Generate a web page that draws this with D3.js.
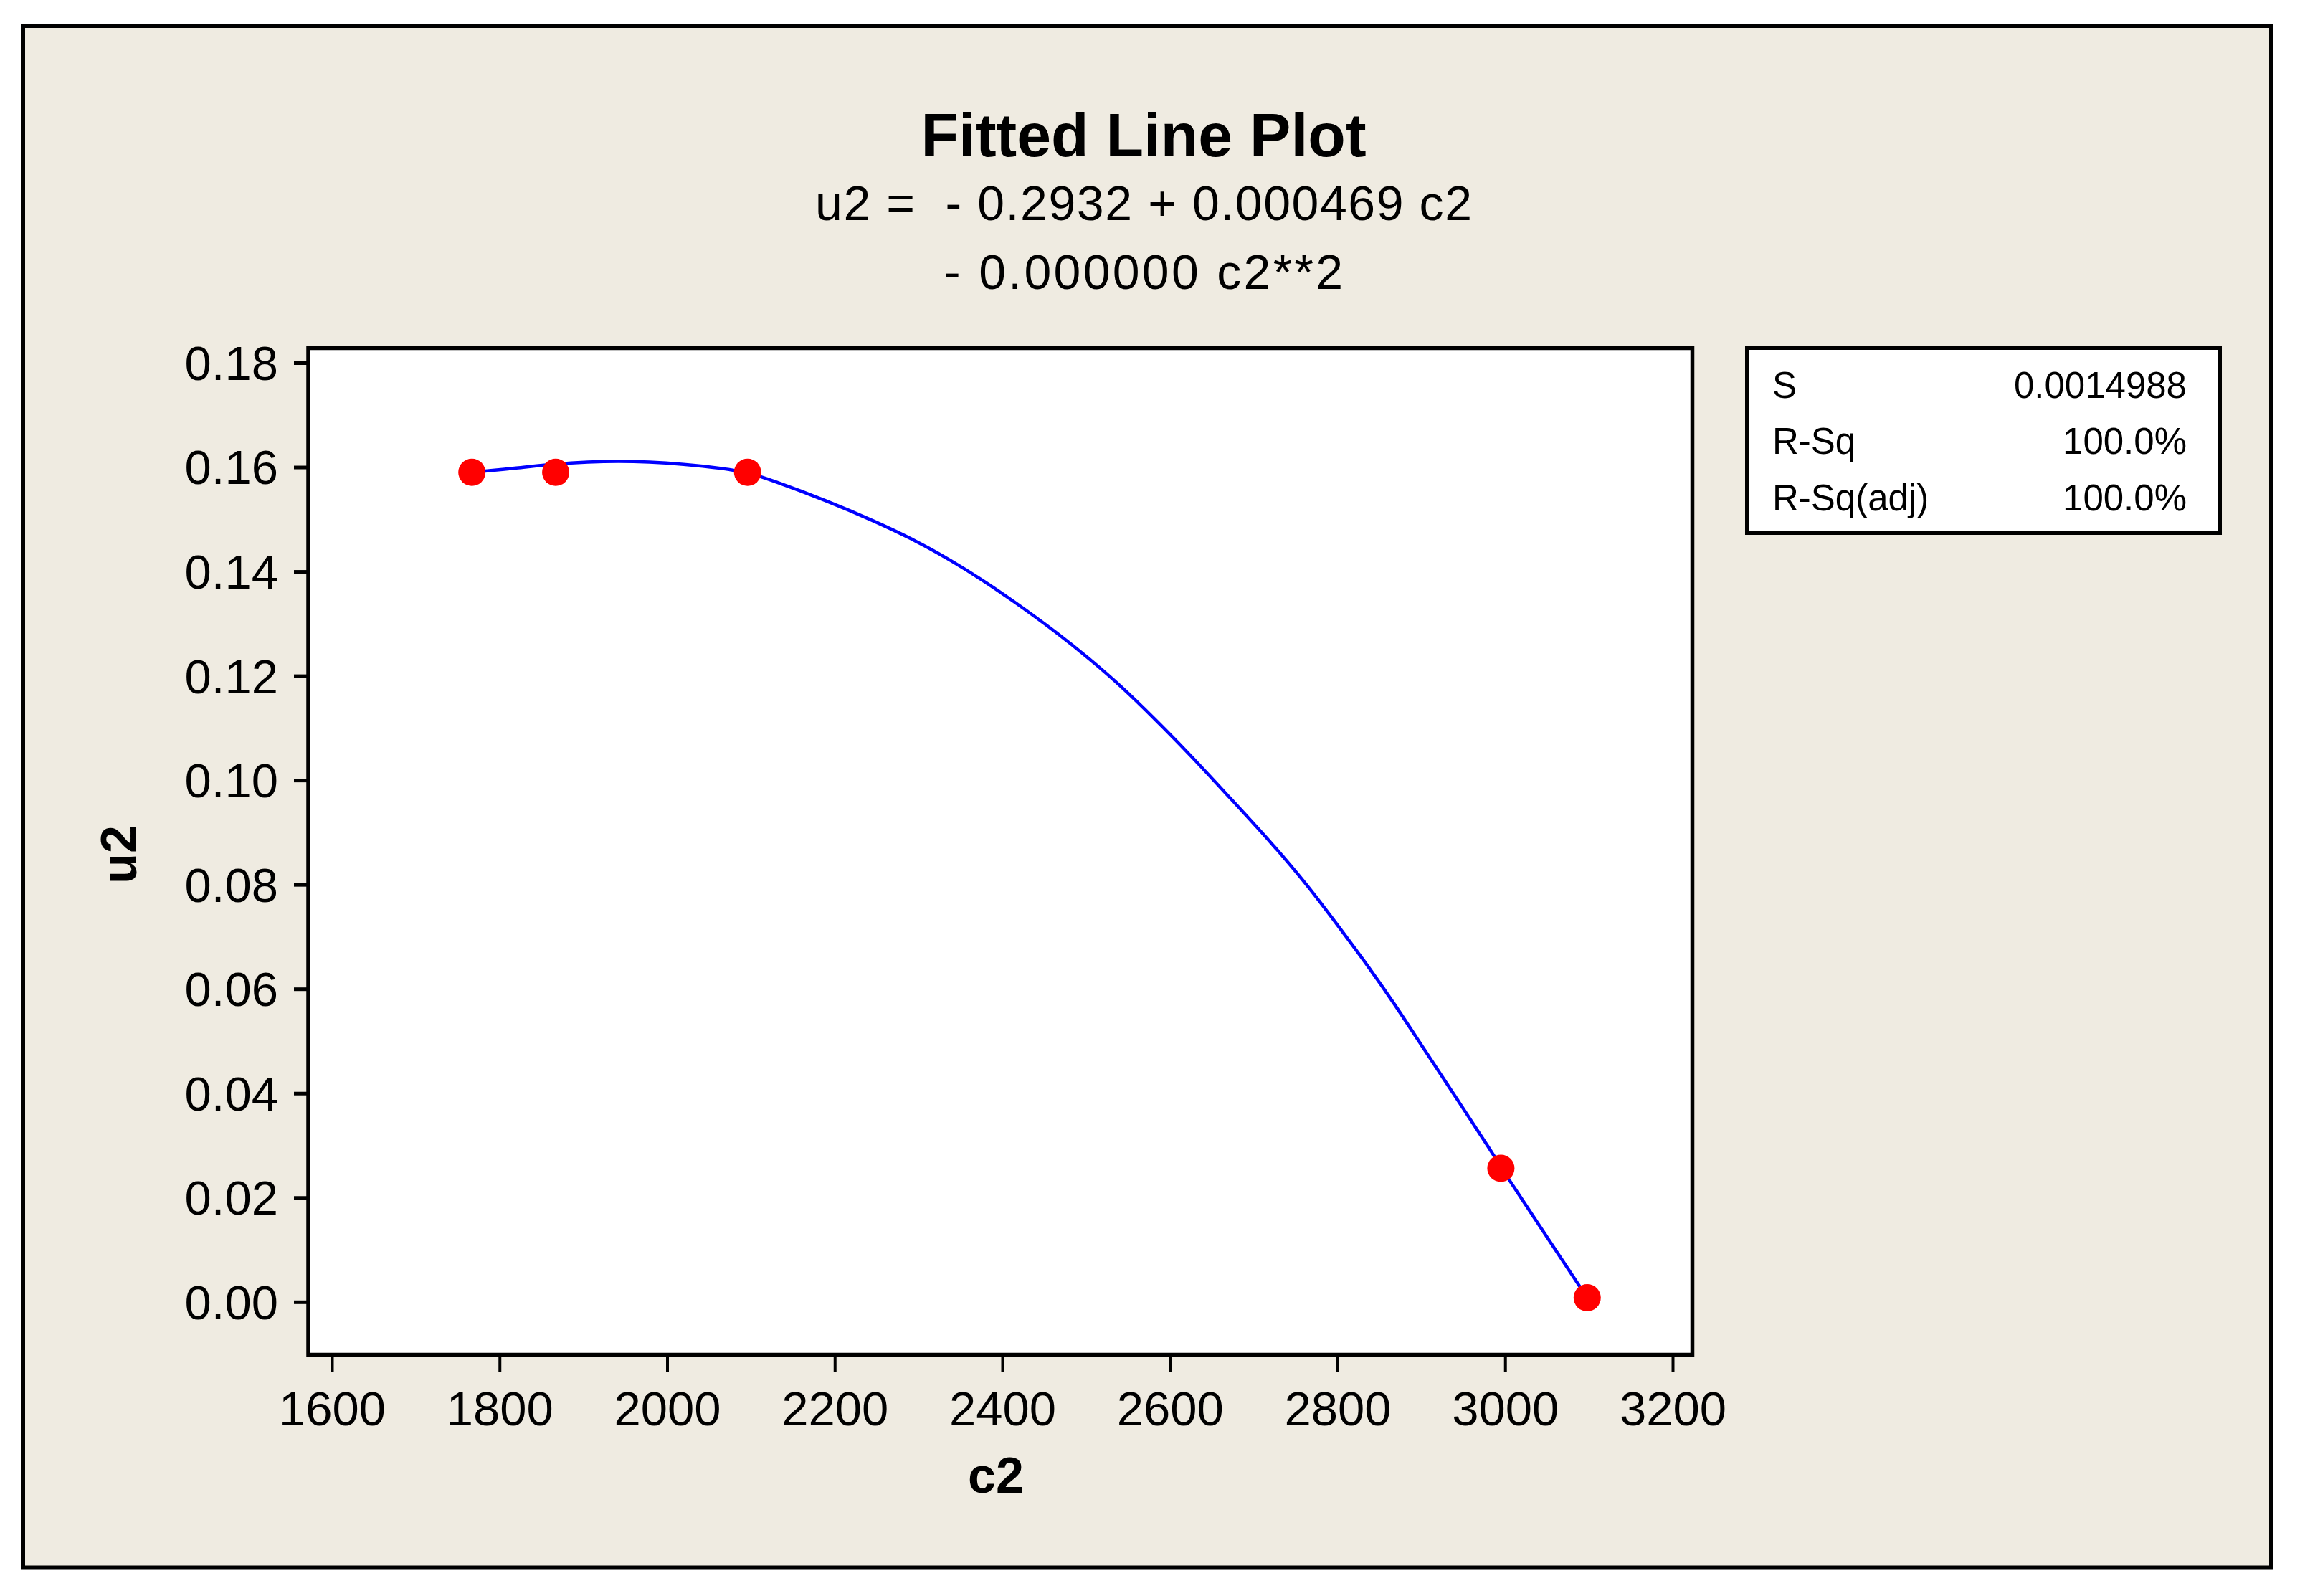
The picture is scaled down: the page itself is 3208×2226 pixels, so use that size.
<!DOCTYPE html>
<html>
<head>
<meta charset="utf-8">
<script src="https://cdn.jsdelivr.net/npm/d3@7"></script>
<style>
  html, body { margin: 0; padding: 0; background: #ffffff; }
  svg { display: block; }
  text { font-family: "Liberation Sans", Arial, sans-serif; fill: #000; }
</style>
</head>
<body>
<script>
// ---- Data ----
const c2Values = [1767, 1867, 2096, 2995, 3098];
const u2Values = [0.1590, 0.1590, 0.1590, 0.0256, 0.0008];

// fitted curve (c2, u2)
const fitC2 = [1767, 1821, 1856, 1942, 2028, 2064, 2096, 2125, 2190, 2247, 2297, 2339, 2376, 2411, 2466, 2503, 2540, 2583, 2627, 2670, 2723, 2766, 2803, 2836, 2869, 2901, 2943, 2986, 2995, 3014, 3041, 3070, 3098];
const fitU2 = [0.1590, 0.1598, 0.1605, 0.1614, 0.1605, 0.1598, 0.1590, 0.1575, 0.1536, 0.1497, 0.1459, 0.1421, 0.1384, 0.1346, 0.1282, 0.1234, 0.1183, 0.1116, 0.1044, 0.0969, 0.0877, 0.0795, 0.0716, 0.0645, 0.0569, 0.0490, 0.0388, 0.0283, 0.0258, 0.0212, 0.0146, 0.0076, 0.0008];

const xTickValues = [1600, 1800, 2000, 2200, 2400, 2600, 2800, 3000, 3200];
const yTickValues = [0, 0.02, 0.04, 0.06, 0.08, 0.10, 0.12, 0.14, 0.16, 0.18];
const yTickLabels = ["0.00", "0.02", "0.04", "0.06", "0.08", "0.10", "0.12", "0.14", "0.16", "0.18"];

const titleText = "Fitted Line Plot";
const equationLines = ["u2 =  - 0.2932 + 0.000469 c2", "- 0.000000 c2**2"];
const statNames = ["S", "R-Sq", "R-Sq(adj)"];
const statValues = ["0.0014988", "100.0%", "100.0%"];
const xLabel = "c2";
const yLabel = "u2";

// ---- Layout ----
const W = 3208, H = 2226;
const svg = d3.select("body").append("svg").attr("width", W).attr("height", H);

// outer frame
svg.append("rect").attr("x", 32).attr("y", 36).attr("width", 3136).attr("height", 2150.5)
  .attr("fill", "#EFEBE1").attr("stroke", "#000").attr("stroke-width", 6);

// plot area
const plot = { left: 430, top: 485.5, right: 2360.5, bottom: 1889.5 };
svg.append("rect").attr("x", plot.left).attr("y", plot.top)
  .attr("width", plot.right - plot.left).attr("height", plot.bottom - plot.top)
  .attr("fill", "#fff").attr("stroke", "#000").attr("stroke-width", 5.5);

const x = d3.scaleLinear().domain([1600, 3200]).range([463, 2333]);
const y = d3.scaleLinear().domain([0, 0.18]).range([1815.8, 506]);

// axes
const yAxis = d3.axisLeft(y).tickValues(yTickValues)
  .tickFormat((d, i) => yTickLabels[i]).tickSize(18).tickPadding(22).tickSizeOuter(0);
const gy = svg.append("g").attr("transform", "translate(428,0)").call(yAxis);
gy.select(".domain").remove();
gy.selectAll(".tick line").attr("stroke", "#000").attr("stroke-width", 5);
gy.selectAll(".tick text").attr("font-size", 67).attr("font-family", "Liberation Sans, Arial, sans-serif")
  .attr("fill", "#000").attr("dy", "0.35em");

const xAxis = d3.axisBottom(x).tickValues(xTickValues).tickFormat(d3.format("d"))
  .tickSize(22).tickPadding(26).tickSizeOuter(0);
const gx = svg.append("g").attr("transform", "translate(0,1892)").call(xAxis);
gx.select(".domain").remove();
gx.selectAll(".tick line").attr("stroke", "#000").attr("stroke-width", 4);
gx.selectAll(".tick text").attr("font-size", 67).attr("font-family", "Liberation Sans, Arial, sans-serif")
  .attr("fill", "#000");

// fitted curve
const fitData = fitC2.map((c, i) => [c, fitU2[i]]);
const lineGen = d3.line().x(d => x(d[0])).y(d => y(d[1])).curve(d3.curveBasis);
svg.append("path").datum(fitData)
  .attr("d", lineGen)
  .attr("fill", "none").attr("stroke", "#0000FF").attr("stroke-width", 4.5);

// points
svg.append("g").selectAll("circle").data(c2Values.map((c, i) => [c, u2Values[i]]))
  .join("circle").attr("cx", d => x(d[0])).attr("cy", d => y(d[1])).attr("r", 19)
  .attr("fill", "#FF0000");

// title
svg.append("text").attr("x", 1595).attr("y", 218).attr("text-anchor", "middle")
  .attr("font-size", 86).attr("font-weight", "bold").text(titleText);
const eqWidths = [916, 556];
const eqBaselines = [307, 403];
equationLines.forEach((t, i) => {
  svg.append("text").attr("x", 1595).attr("y", eqBaselines[i]).attr("text-anchor", "middle")
    .attr("font-size", 68).style("white-space", "pre")
    .attr("textLength", eqWidths[i]).attr("lengthAdjust", "spacing").text(t);
});

// axis labels
svg.append("text").attr("x", 1389).attr("y", 2082).attr("text-anchor", "middle")
  .attr("font-size", 70).attr("font-weight", "bold").text(xLabel);
svg.append("text").attr("transform", "translate(190,1192) rotate(-90)").attr("text-anchor", "middle")
  .attr("font-size", 70).attr("font-weight", "bold").text(yLabel);

// stats box
svg.append("rect").attr("x", 2436.5).attr("y", 485.5).attr("width", 660).attr("height", 258)
  .attr("fill", "#fff").attr("stroke", "#000").attr("stroke-width", 5);
const statBaselines = [555, 633, 712];
statNames.forEach((n, i) => {
  svg.append("text").attr("x", 2472).attr("y", statBaselines[i]).attr("font-size", 51).text(n);
  svg.append("text").attr("x", 3050).attr("y", statBaselines[i]).attr("text-anchor", "end")
    .attr("font-size", 51).text(statValues[i]);
});
</script>
</body>
</html>
